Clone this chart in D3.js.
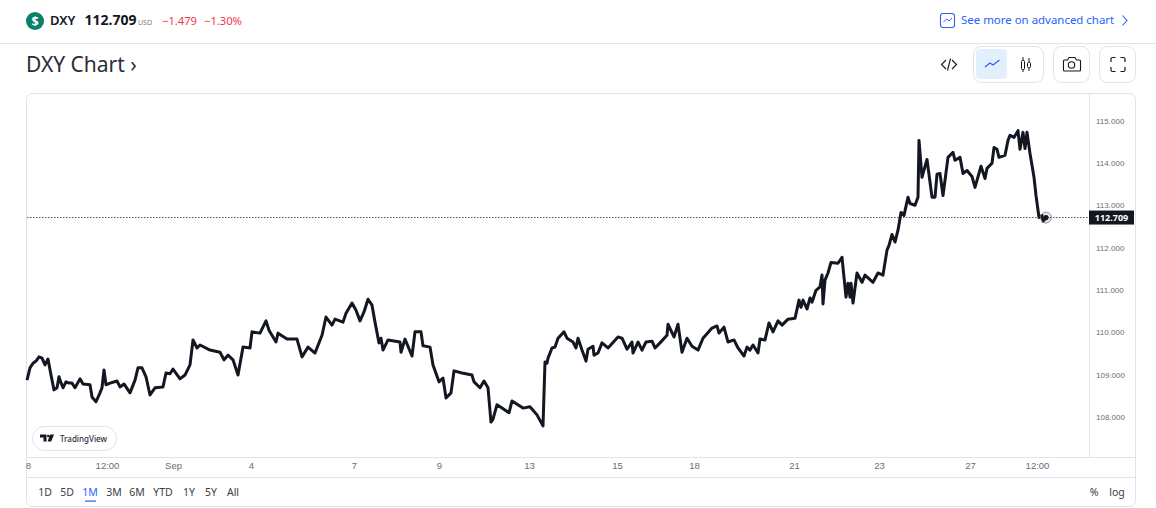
<!DOCTYPE html>
<html>
<head>
<meta charset="utf-8">
<script src="https://cdn.jsdelivr.net/npm/d3@7"></script>
<style>
    html, body { margin: 0; padding: 0; background: #fff; overflow: hidden; }
    svg { display: block; font-family: "Noto Sans", sans-serif; }
    .axis text { font-size: 8px; fill: #6a6d78; }
    .time-axis text { font-size: 9.5px; fill: #6a6d78; font-weight: 500; }
    .range text { font-size: 10.5px; fill: #3a3e49; }
</style>
</head>
<body>
<svg id="chart" width="1156" height="508"></svg>
<script>
// bar number on the time axis, and price at that bar, ten to a row
const bars = [
    0,3,6,9,12,15,18,21,24,27,
    30,32,33,36,39,42,45,48,53,56,
    63,65,69,73,75,77,79,83,90,93,
    97,103,108,111,115,119,123,128,136,139,
    143,146,153,158,163,166,170,173,183,193,
    197,201,206,211,216,223,225,233,239,242,
    249,251,260,270,275,281,288,295,299,305,
    308,316,319,325,329,333,337,341,345,348,
    352,354,356,361,373,374,378,385,388,394,
    396,403,406,412,416,419,424,427,435,445,
    447,453,457,461,464,466,470,475,482,485,
    496,503,510,516,518,520,521,525,528,531,
    537,540,546,549,551,555,559,561,566,567,
    571,575,581,591,595,600,605,606,611,615,
    619,625,628,633,640,641,647,651,655,660,
    665,671,676,685,690,692,697,701,707,711,
    717,720,723,726,731,733,738,742,746,751,
    755,761,768,772,774,776,780,783,785,789,
    793,795,796,798,801,804,811,815,819,821,
    823,824,826,830,835,838,846,851,856,860,
    862,865,868,871,874,877,881,883,888,891,
    892,895,900,905,908,910,913,916,921,926,
    928,933,936,940,945,948,954,958,960,965,
    967,970,972,978,981,983,987,991,993,996,
    998,1000,1003,1007,1009,1012,1015,1016,1019
];
const closes = [
    108.87,109.16,109.27,109.32,109.42,109.39,109.23,109.37,108.99,108.64,
    108.69,108.95,108.87,108.69,108.83,108.80,108.80,108.69,108.90,108.78,
    108.76,108.47,108.36,108.57,108.69,109.11,108.76,108.80,108.85,108.71,
    108.78,108.57,108.87,109.16,109.16,108.95,108.52,108.69,108.71,109.04,
    109.02,109.13,108.90,108.99,109.23,109.82,109.63,109.70,109.58,109.53,
    109.35,109.46,109.35,108.99,109.65,109.63,110.01,109.98,110.27,110.05,
    109.77,109.98,109.84,109.84,109.42,109.65,109.51,109.93,110.36,110.17,
    110.31,110.24,110.45,110.69,110.52,110.27,110.48,110.78,110.64,110.24,
    109.75,109.86,109.58,109.82,109.77,109.53,109.84,109.44,110.01,110.01,
    109.68,109.65,109.23,108.83,108.92,108.45,108.57,109.09,109.04,108.99,
    108.83,108.69,108.85,108.69,107.88,107.95,108.29,108.21,108.10,108.38,
    108.21,108.24,108.05,107.79,109.30,109.27,109.39,109.63,109.65,109.86,
    110.01,109.86,109.77,109.63,109.86,109.58,109.32,109.60,109.67,109.46,
    109.51,109.75,109.63,109.89,109.86,109.60,109.77,109.51,109.77,109.58,
    109.77,109.79,109.63,109.75,109.93,110.19,109.89,110.19,109.53,109.86,
    109.67,109.58,109.86,110.10,110.15,109.98,110.12,109.77,109.82,109.63,
    109.44,109.65,109.58,109.70,109.51,109.84,109.82,110.22,110.01,110.27,
    110.17,110.31,110.33,110.76,110.59,110.76,110.55,110.81,110.71,110.99,
    111.07,111.35,110.67,111.23,111.40,111.65,111.63,111.77,110.83,111.16,
    110.83,111.16,110.69,111.40,111.18,111.35,111.18,111.40,111.35,111.94,
    112.05,112.31,112.13,112.41,112.83,112.76,113.19,113.04,113.00,113.19,
    114.53,113.66,114.08,113.19,113.19,113.73,113.75,113.23,114.13,114.25,
    114.06,114.13,113.75,113.82,113.68,113.42,113.92,113.63,113.87,113.99,
    114.36,114.32,114.13,114.18,114.53,114.65,114.60,114.76,114.32,114.72,
    114.34,114.72,114.22,113.66,113.23,112.71,112.76,112.62,112.71
];
const lastPrice = 112.709;

const priceTicks = [115, 114, 113, 112, 111, 110, 109, 108];
const timeTickBars = [1, 80, 146, 224, 327, 412, 502, 590, 667, 767, 852, 943, 1010];
const timeTickLabels = ['8', '12:00', 'Sep', '4', '7', '9', '13', '15', '18', '21', '23', '27', '12:00'];
const ranges = ['1D', '5D', '1M', '3M', '6M', 'YTD', '1Y', '5Y', 'All'];
const rangeCenters = [45, 67, 90, 114, 137, 163, 189, 211, 233];

const svg = d3.select('#chart');
const border = '#e0e3eb', ink = '#131722', blue = '#2962ff', red = '#f23645';

// --- scales: one bar per pixel, pane runs 27 to 1089
const xScale = d3.scaleLinear().domain([0, 1062]).range([27, 1089]);
const yScale = d3.scaleLinear().domain([108, 115]).range([417, 120.5]);

// --- header
svg.append('line').attr('x1', 0).attr('x2', 1156).attr('y1', 43.5).attr('y2', 43.5).attr('stroke', border);
svg.append('circle').attr('cx', 35).attr('cy', 21).attr('r', 9).attr('fill', '#0b8068');
svg.append('text').attr('x', 35).attr('y', 25.5).attr('text-anchor', 'middle').attr('fill', '#fff')
    .attr('font-size', 12.5).attr('font-weight', 700).text('$');
svg.append('text').attr('x', 50).attr('y', 25).attr('font-size', 13).attr('font-weight', 600).attr('fill', ink).text('DXY');
svg.append('text').attr('x', 84.5).attr('y', 25).attr('font-size', 14).attr('font-weight', 700).attr('fill', ink).text('112.709');
svg.append('text').attr('x', 138).attr('y', 25).attr('font-size', 7).attr('fill', '#787b86').text('USD');
svg.append('text').attr('x', 162).attr('y', 25).attr('font-size', 11.2).attr('fill', red).text('\u22121.479');
svg.append('text').attr('x', 204).attr('y', 25).attr('font-size', 11.2).attr('fill', red).text('\u22121.30%');

svg.append('rect').attr('x', 940.5).attr('y', 13.5).attr('width', 14).attr('height', 14).attr('rx', 2.5)
    .attr('fill', 'none').attr('stroke', blue).attr('stroke-width', 1.1);
svg.append('path').attr('d', 'M943.5 22l3-3 2.5 2 3-3').attr('fill', 'none').attr('stroke', blue);
svg.append('text').attr('x', 961).attr('y', 24).attr('font-size', 11.45).attr('fill', blue).text('See more on advanced chart');
svg.append('path').attr('d', 'M1122.5 15.5l4.5 5-4.5 5').attr('fill', 'none').attr('stroke', blue).attr('stroke-width', 1.1);

svg.append('text').attr('x', 26).attr('y', 72).attr('font-size', 21).attr('fill', '#2a2e39').text('DXY Chart \u203a');

// --- toolbar buttons
svg.append('path').attr('d', 'M946 60l-4.5 4.5 4.5 4.5M952 60l4.5 4.5-4.5 4.5M950.5 58.5l-3 12')
    .attr('fill', 'none').attr('stroke', ink).attr('stroke-width', 1.1);
svg.append('rect').attr('x', 973.5).attr('y', 46.5).attr('width', 70).attr('height', 36).attr('rx', 8)
    .attr('fill', 'none').attr('stroke', border);
svg.append('rect').attr('x', 976).attr('y', 49).attr('width', 31).attr('height', 30).attr('rx', 4).attr('fill', '#e3effd');
svg.append('path').attr('d', 'M985 67l5-4 3 2 6.5-5').attr('fill', 'none').attr('stroke', blue).attr('stroke-width', 1.2);
svg.append('path').attr('d', 'M1023 57v15M1029 58v13').attr('stroke', ink);
svg.append('rect').attr('x', 1021.5).attr('y', 60.5).attr('width', 3).attr('height', 9).attr('rx', 1).attr('fill', '#fff').attr('stroke', ink);
svg.append('rect').attr('x', 1027.5).attr('y', 62.5).attr('width', 3).attr('height', 5).attr('rx', 1).attr('fill', '#fff').attr('stroke', ink);
svg.append('rect').attr('x', 1053.5).attr('y', 46.5).attr('width', 36).attr('height', 36).attr('rx', 8).attr('fill', 'none').attr('stroke', border);
svg.append('path').attr('d', 'M1064.5 60h3l1.5-2.5h6l1.5 2.5h3a1 1 0 0 1 1 1v9a1 1 0 0 1-1 1h-15a1 1 0 0 1-1-1v-9a1 1 0 0 1 1-1z')
    .attr('fill', 'none').attr('stroke', ink).attr('stroke-width', 1.1);
svg.append('circle').attr('cx', 1071.5).attr('cy', 65).attr('r', 3.2).attr('fill', 'none').attr('stroke', ink).attr('stroke-width', 1.1);
svg.append('rect').attr('x', 1099.5).attr('y', 46.5).attr('width', 36).attr('height', 36).attr('rx', 8).attr('fill', 'none').attr('stroke', border);
svg.append('path').attr('d', 'M1111 62v-3a1.5 1.5 0 0 1 1.5-1.5h3M1120.5 57.5h3a1.5 1.5 0 0 1 1.5 1.5v3M1125 67v3a1.5 1.5 0 0 1-1.5 1.5h-3M1115.5 71.5h-3a1.5 1.5 0 0 1-1.5-1.5v-3')
    .attr('fill', 'none').attr('stroke', ink).attr('stroke-width', 1.2);

// --- chart frame
svg.append('rect').attr('x', 26.5).attr('y', 93.5).attr('width', 1109).attr('height', 413).attr('rx', 6)
    .attr('fill', 'none').attr('stroke', border);
svg.append('line').attr('x1', 1089.5).attr('x2', 1089.5).attr('y1', 94).attr('y2', 457).attr('stroke', border);
svg.append('line').attr('x1', 27).attr('x2', 1135).attr('y1', 457.5).attr('y2', 457.5).attr('stroke', border);
svg.append('line').attr('x1', 27).attr('x2', 1135).attr('y1', 477.5).attr('y2', 477.5).attr('stroke', border);

// --- price axis
const yAxis = d3.axisRight(yScale).tickValues(priceTicks).tickSize(0).tickPadding(6).tickFormat(d3.format('.3f'));
svg.append('g').attr('class', 'axis').attr('transform', 'translate(1090,0)').call(yAxis)
    .call(g => g.select('.domain').remove());

// --- time axis
const xAxis = d3.axisBottom(xScale).tickValues(timeTickBars).tickSize(0).tickPadding(0)
    .tickFormat((d, i) => timeTickLabels[i]);
svg.append('g').attr('class', 'time-axis').attr('transform', 'translate(0,462)').call(xAxis)
    .call(g => g.select('.domain').remove());

// --- last price line
svg.append('line').attr('x1', 27).attr('x2', 1089).attr('y1', yScale(lastPrice)).attr('y2', yScale(lastPrice))
    .attr('stroke', '#555').attr('stroke-width', 1).attr('stroke-dasharray', '1.5 1.5');

// --- price line
const line = d3.line().x((d, i) => xScale(bars[i])).y(d => yScale(d));
svg.append('path').datum(closes).attr('d', line).attr('fill', 'none').attr('stroke', ink)
    .attr('stroke-width', 3).attr('stroke-linejoin', 'round');

// last point marker
const lastX = xScale(bars[bars.length - 1]), lastY = yScale(lastPrice);
svg.append('circle').attr('cx', lastX).attr('cy', lastY).attr('r', 5.5).attr('fill', ink).attr('fill-opacity', 0.12)
    .attr('stroke', '#888').attr('stroke-width', 0.8);
svg.append('circle').attr('cx', lastX).attr('cy', lastY).attr('r', 2.6).attr('fill', ink);

// last price label
svg.append('rect').attr('x', 1089).attr('y', lastY - 7).attr('width', 45).attr('height', 14).attr('fill', ink);
svg.append('text').attr('x', 1111.5).attr('y', lastY + 3.3).attr('text-anchor', 'middle').attr('fill', '#fff')
    .attr('font-size', 9).attr('font-weight', 700).text(d3.format('.3f')(lastPrice));

// --- TradingView badge
svg.append('rect').attr('x', 32.5).attr('y', 426.5).attr('width', 84).attr('height', 24).attr('rx', 12)
    .attr('fill', '#fff').attr('stroke', border);
svg.append('path').attr('d', 'M40 434.5h6.5v7h-3v-4h-3.5zM47.5 441.5l2.8-7h3.7l-2.8 7z M47 436a1.3 1.3 0 1 0 2.6 0a1.3 1.3 0 1 0-2.6 0')
    .attr('fill', ink);
svg.append('text').attr('x', 60).attr('y', 442).attr('font-size', 8).attr('font-weight', 500).attr('fill', '#2a2e39').text('TradingView');

// --- range buttons
svg.append('g').attr('class', 'range').selectAll('text').data(ranges).join('text')
    .attr('x', (d, i) => rangeCenters[i]).attr('y', 496).attr('text-anchor', 'middle')
    .style('fill', d => d === '1M' ? blue : null).text(d => d);
svg.append('rect').attr('x', 85).attr('y', 500.5).attr('width', 11).attr('height', 1.2).attr('fill', blue);
svg.append('text').attr('x', 1094).attr('y', 496).attr('text-anchor', 'middle').attr('font-size', 10.5).attr('fill', '#3a3e49').text('%');
svg.append('text').attr('x', 1117).attr('y', 496).attr('text-anchor', 'middle').attr('font-size', 10.5).attr('fill', '#3a3e49').text('log');
</script>
</body>
</html>
